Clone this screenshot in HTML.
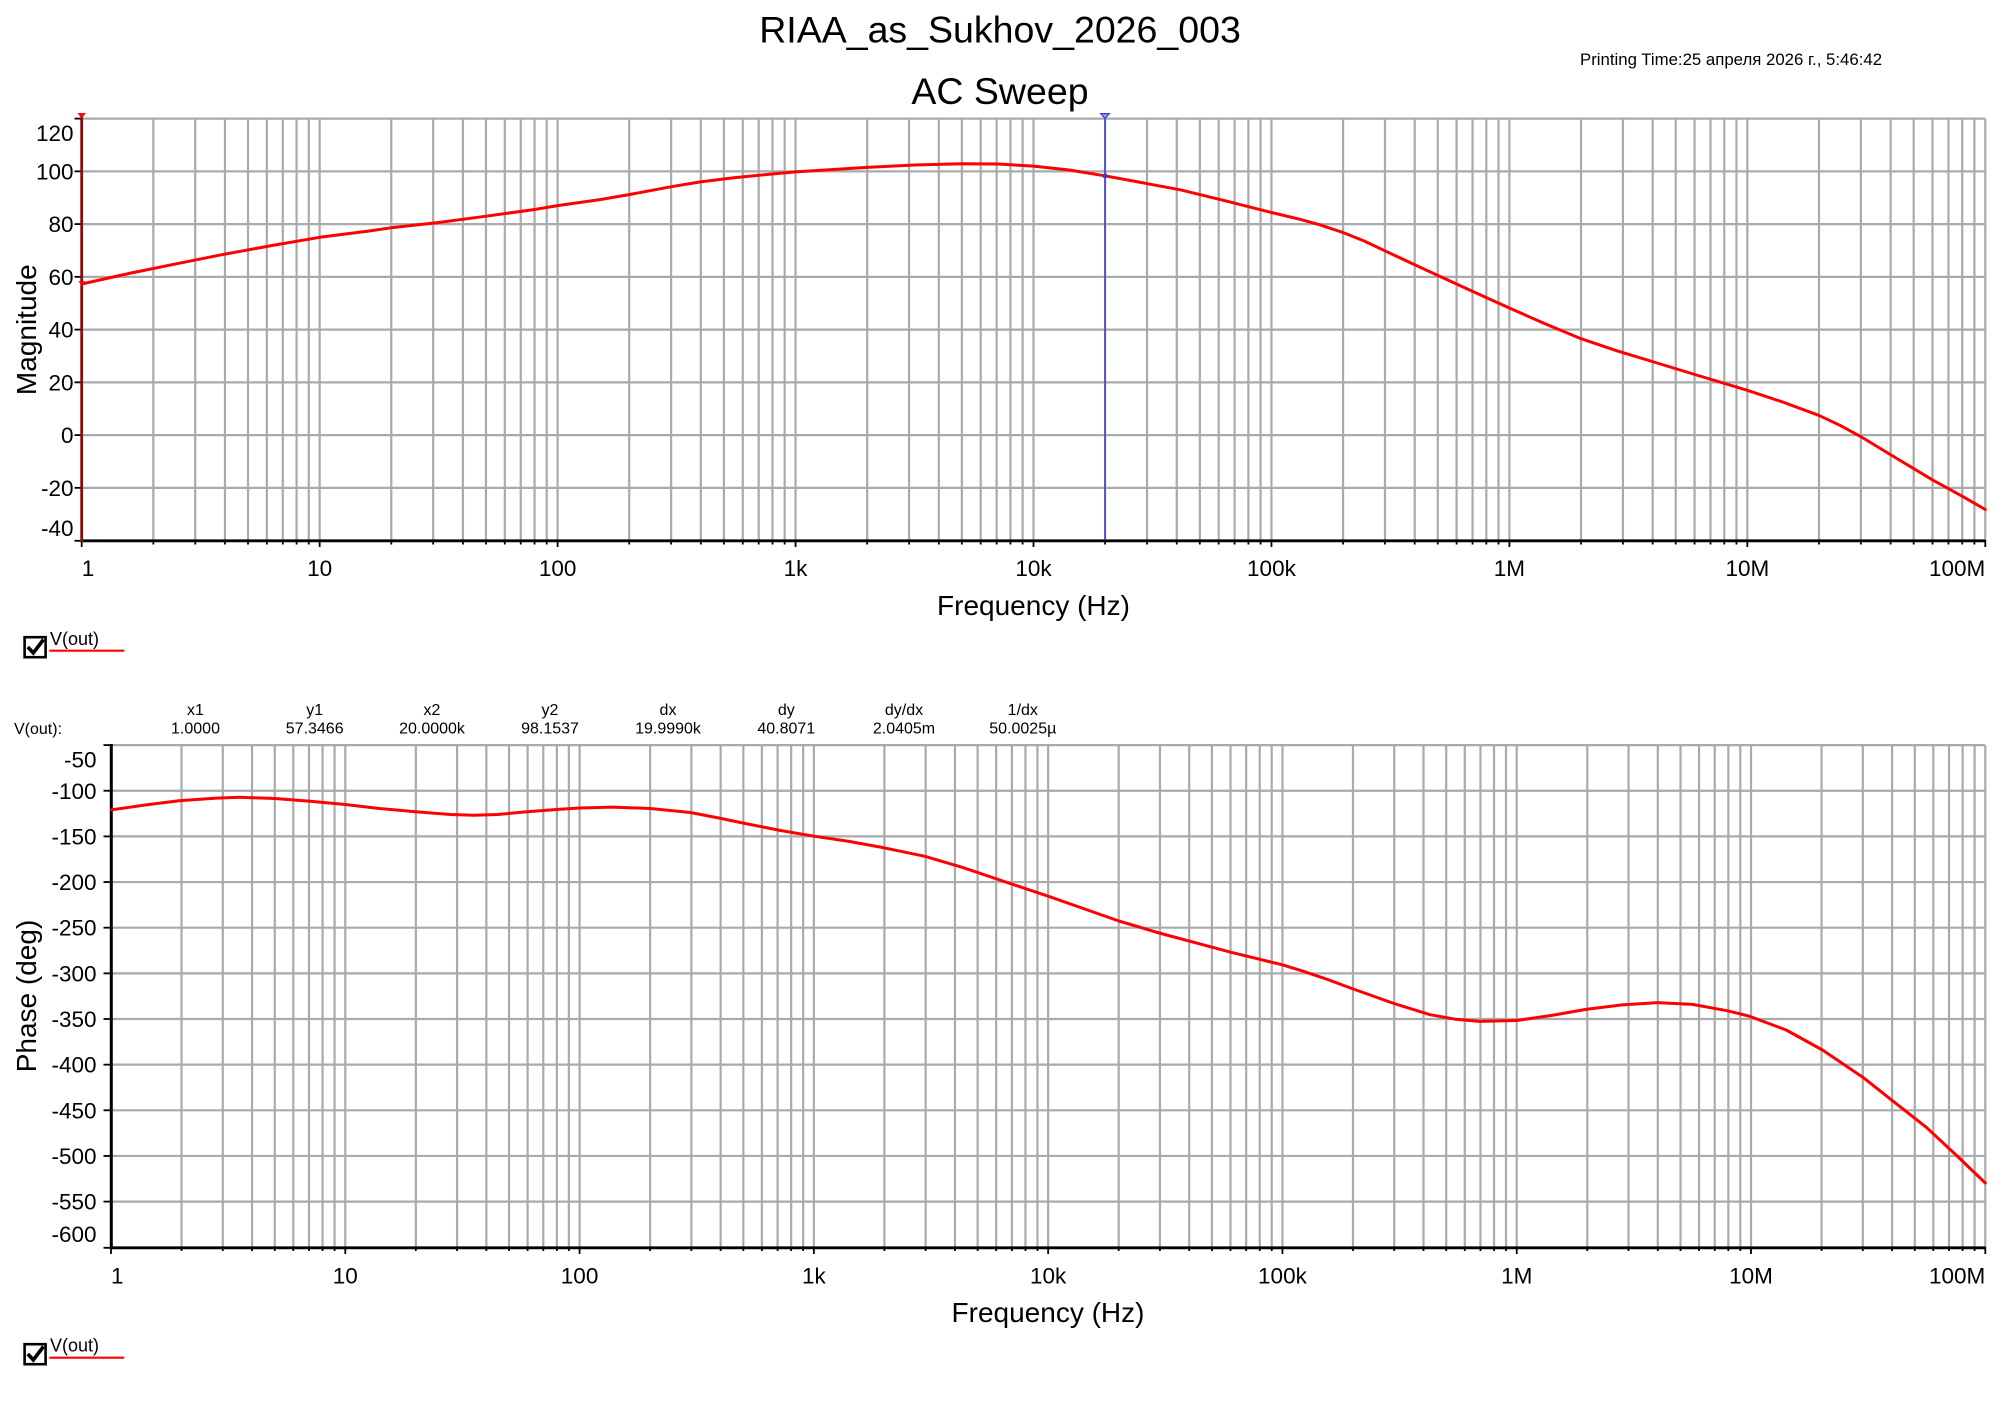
<!DOCTYPE html>
<html><head><meta charset="utf-8"><style>
html,body{margin:0;padding:0;background:#fff;}
svg{display:block;}
text{font-family:"Liberation Sans",Arial,sans-serif;fill:#000;}
</style></head><body>
<svg width="2000" height="1414" viewBox="0 0 2000 1414" xmlns="http://www.w3.org/2000/svg">
<defs>
<g id="gu" stroke="#aaaaaa" stroke-width="2.2">
<line x1="0" y1="118.6" x2="0" y2="540.8"/><line x1="71.63" y1="118.6" x2="71.63" y2="540.8"/><line x1="113.53" y1="118.6" x2="113.53" y2="540.8"/><line x1="143.26" y1="118.6" x2="143.26" y2="540.8"/><line x1="166.32" y1="118.6" x2="166.32" y2="540.8"/><line x1="185.16" y1="118.6" x2="185.16" y2="540.8"/><line x1="201.09" y1="118.6" x2="201.09" y2="540.8"/><line x1="214.89" y1="118.6" x2="214.89" y2="540.8"/><line x1="227.06" y1="118.6" x2="227.06" y2="540.8"/>
</g>
<g id="tu" stroke="#000" stroke-width="1.8">
<line x1="0" y1="540" x2="0" y2="547"/><line x1="71.63" y1="540" x2="71.63" y2="544.5"/><line x1="113.53" y1="540" x2="113.53" y2="544.5"/><line x1="143.26" y1="540" x2="143.26" y2="544.5"/><line x1="166.32" y1="540" x2="166.32" y2="544.5"/><line x1="185.16" y1="540" x2="185.16" y2="544.5"/><line x1="201.09" y1="540" x2="201.09" y2="544.5"/><line x1="214.89" y1="540" x2="214.89" y2="544.5"/><line x1="227.06" y1="540" x2="227.06" y2="544.5"/>
</g>
<g id="gl" stroke="#aaaaaa" stroke-width="2.2">
<line x1="0" y1="745.1" x2="0" y2="1247.8"/><line x1="70.53" y1="745.1" x2="70.53" y2="1247.8"/><line x1="111.79" y1="745.1" x2="111.79" y2="1247.8"/><line x1="141.06" y1="745.1" x2="141.06" y2="1247.8"/><line x1="163.76" y1="745.1" x2="163.76" y2="1247.8"/><line x1="182.31" y1="745.1" x2="182.31" y2="1247.8"/><line x1="198.0" y1="745.1" x2="198.0" y2="1247.8"/><line x1="211.58" y1="745.1" x2="211.58" y2="1247.8"/><line x1="223.57" y1="745.1" x2="223.57" y2="1247.8"/>
</g>
<g id="tl" stroke="#000" stroke-width="1.8">
<line x1="0" y1="1247" x2="0" y2="1254"/><line x1="70.53" y1="1247" x2="70.53" y2="1251"/><line x1="111.79" y1="1247" x2="111.79" y2="1251"/><line x1="141.06" y1="1247" x2="141.06" y2="1251"/><line x1="163.76" y1="1247" x2="163.76" y2="1251"/><line x1="182.31" y1="1247" x2="182.31" y2="1251"/><line x1="198.0" y1="1247" x2="198.0" y2="1251"/><line x1="211.58" y1="1247" x2="211.58" y2="1251"/><line x1="223.57" y1="1247" x2="223.57" y2="1251"/>
</g>
</defs>

<!-- Titles -->
<text x="1000" y="42.4" font-size="37.5" text-anchor="middle">RIAA_as_Sukhov_2026_003</text>
<text x="1580" y="65" font-size="16.8">Printing Time:25 апреля 2026 г., 5:46:42</text>
<text x="1000" y="104" font-size="37.5" text-anchor="middle">AC Sweep</text>

<!-- ===== Upper plot ===== -->
<g stroke="#aaaaaa" stroke-width="2.2">
<line x1="81.7" y1="118.6" x2="1985.3" y2="118.6"/>
<line x1="81.7" y1="171.35" x2="1985.3" y2="171.35"/>
<line x1="81.7" y1="224.1" x2="1985.3" y2="224.1"/>
<line x1="81.7" y1="276.85" x2="1985.3" y2="276.85"/>
<line x1="81.7" y1="329.6" x2="1985.3" y2="329.6"/>
<line x1="81.7" y1="382.35" x2="1985.3" y2="382.35"/>
<line x1="81.7" y1="435.1" x2="1985.3" y2="435.1"/>
<line x1="81.7" y1="487.85" x2="1985.3" y2="487.85"/>
<line x1="1985.3" y1="118.6" x2="1985.3" y2="540.8"/>
</g>
<use href="#gu" x="81.7"/><use href="#gu" x="319.65"/><use href="#gu" x="557.6"/><use href="#gu" x="795.55"/><use href="#gu" x="1033.5"/><use href="#gu" x="1271.45"/><use href="#gu" x="1509.4"/><use href="#gu" x="1747.35"/>
<use href="#tu" x="81.7"/><use href="#tu" x="319.65"/><use href="#tu" x="557.6"/><use href="#tu" x="795.55"/><use href="#tu" x="1033.5"/><use href="#tu" x="1271.45"/><use href="#tu" x="1509.4"/><use href="#tu" x="1747.35"/>
<line x1="1985.3" y1="540" x2="1985.3" y2="547" stroke="#000" stroke-width="1.8"/>
<g stroke="#000" stroke-width="1.8">
<line x1="74.5" y1="118.6" x2="81.7" y2="118.6"/>
<line x1="74.5" y1="171.35" x2="81.7" y2="171.35"/>
<line x1="74.5" y1="224.1" x2="81.7" y2="224.1"/>
<line x1="74.5" y1="276.85" x2="81.7" y2="276.85"/>
<line x1="74.5" y1="329.6" x2="81.7" y2="329.6"/>
<line x1="74.5" y1="382.35" x2="81.7" y2="382.35"/>
<line x1="74.5" y1="435.1" x2="81.7" y2="435.1"/>
<line x1="74.5" y1="487.85" x2="81.7" y2="487.85"/>
<line x1="74.5" y1="540.8" x2="81.7" y2="540.8"/>
</g>
<line x1="80.5" y1="540.8" x2="1985.3" y2="540.8" stroke="#000" stroke-width="2.8"/>
<line x1="81.7" y1="116" x2="81.7" y2="542" stroke="#8a0a0a" stroke-width="2.8"/>
<polygon points="77.5,113 86,113 81.7,118.5" fill="#e81010"/>

<!-- blue cursor -->
<line x1="1105" y1="115" x2="1105" y2="540" stroke="#3b3bd0" stroke-width="1.5"/>
<polygon points="1100.7,113.6 1109.3,113.6 1105,118.6" fill="#9a9af0" stroke="#3b3bd0" stroke-width="1.2"/>

<!-- magnitude curve -->
<polyline fill="none" stroke="#ff0000" stroke-width="3" stroke-linejoin="round" stroke-linecap="round" points="81.7,284.0 129.3,273.4 176.9,263.7 224.5,254.2 272.1,245.5 319.7,237.3 367.2,231.2 391.0,227.8 438.6,222.5 486.2,216.2 533.8,209.6 557.6,205.6 600.0,199.6 629.0,194.6 671.4,186.7 700.4,181.9 733.9,177.7 771.8,174.0 795.6,171.9 866.9,167.4 914.5,165.0 962.1,163.7 997.8,164.0 1033.5,166.1 1069.2,170.0 1104.9,175.8 1140.6,182.4 1180.3,189.8 1223.9,200.4 1271.5,212.5 1300.0,219.3 1319.1,224.6 1343.0,232.5 1364.2,241.0 1384.7,250.7 1414.2,264.5 1438.0,275.5 1473.7,291.9 1509.4,308.0 1545.1,323.8 1580.8,338.6 1616.5,350.7 1652.2,361.5 1699.8,376.0 1747.4,390.3 1783.0,402.1 1818.7,415.3 1840.0,425.3 1860.4,436.4 1890.1,454.4 1933.0,480.2 1961.5,495.8 1985.3,509.5"/>
<circle cx="1105" cy="175.9" r="2.5" fill="#3b3bd0"/>
<polygon points="78.5,281 85,281 81.7,286" fill="#e81010"/>

<!-- upper labels -->
<g font-size="22.5" text-anchor="end">
<text x="73.5" y="140.8">120</text>
<text x="73.5" y="179.4">100</text>
<text x="73.5" y="232.1">80</text>
<text x="73.5" y="284.9">60</text>
<text x="73.5" y="337.6">40</text>
<text x="73.5" y="390.4">20</text>
<text x="73.5" y="443.1">0</text>
<text x="73.5" y="495.9">-20</text>
<text x="73.5" y="536">-40</text>
</g>
<g font-size="22.5" text-anchor="middle">
<text x="81.7" y="576" text-anchor="start">1</text>
<text x="319.65" y="576">10</text>
<text x="557.6" y="576">100</text>
<text x="795.55" y="576">1k</text>
<text x="1033.5" y="576">10k</text>
<text x="1271.45" y="576">100k</text>
<text x="1509.4" y="576">1M</text>
<text x="1747.35" y="576">10M</text>
<text x="1985.3" y="576" text-anchor="end">100M</text>
</g>
<text x="1033.5" y="615" font-size="28" text-anchor="middle">Frequency (Hz)</text>
<text transform="translate(36,329.7) rotate(-90)" font-size="28" text-anchor="middle">Magnitude</text>

<!-- legend 1 -->
<rect x="24.6" y="637.2" width="21" height="20" fill="#fff" stroke="#000" stroke-width="2.6"/>
<polyline points="27.8,647 33.3,653 43.5,639.5" fill="none" stroke="#000" stroke-width="3.6"/>
<text x="50" y="645" font-size="18">V(out)</text>
<line x1="49.3" y1="650.7" x2="124.3" y2="650.7" stroke="#ff0000" stroke-width="2.2"/>

<!-- cursor readout -->
<g font-size="16" text-anchor="middle">
<text x="14" y="734" text-anchor="start">V(out):</text>
<text x="195.5" y="715">x1</text><text x="195.5" y="733.5">1.0000</text>
<text x="314.7" y="715">y1</text><text x="314.7" y="733.5">57.3466</text>
<text x="432" y="715">x2</text><text x="432" y="733.5">20.0000k</text>
<text x="550" y="715">y2</text><text x="550" y="733.5">98.1537</text>
<text x="668" y="715">dx</text><text x="668" y="733.5">19.9990k</text>
<text x="786.3" y="715">dy</text><text x="786.3" y="733.5">40.8071</text>
<text x="904" y="715">dy/dx</text><text x="904" y="733.5">2.0405m</text>
<text x="1022.8" y="715">1/dx</text><text x="1022.8" y="733.5">50.0025µ</text>
</g>

<!-- ===== Lower plot ===== -->
<g stroke="#aaaaaa" stroke-width="2.2">
<line x1="111" y1="745.1" x2="1985.3" y2="745.1"/>
<line x1="111" y1="790.75" x2="1985.3" y2="790.75"/>
<line x1="111" y1="836.4" x2="1985.3" y2="836.4"/>
<line x1="111" y1="882.05" x2="1985.3" y2="882.05"/>
<line x1="111" y1="927.7" x2="1985.3" y2="927.7"/>
<line x1="111" y1="973.35" x2="1985.3" y2="973.35"/>
<line x1="111" y1="1019.0" x2="1985.3" y2="1019.0"/>
<line x1="111" y1="1064.65" x2="1985.3" y2="1064.65"/>
<line x1="111" y1="1110.3" x2="1985.3" y2="1110.3"/>
<line x1="111" y1="1155.95" x2="1985.3" y2="1155.95"/>
<line x1="111" y1="1201.6" x2="1985.3" y2="1201.6"/>
<line x1="1985.3" y1="745.1" x2="1985.3" y2="1247.8"/>
</g>
<use href="#gl" x="111"/><use href="#gl" x="345.29"/><use href="#gl" x="579.58"/><use href="#gl" x="813.87"/><use href="#gl" x="1048.16"/><use href="#gl" x="1282.45"/><use href="#gl" x="1516.74"/><use href="#gl" x="1751.03"/>
<use href="#tl" x="111"/><use href="#tl" x="345.29"/><use href="#tl" x="579.58"/><use href="#tl" x="813.87"/><use href="#tl" x="1048.16"/><use href="#tl" x="1282.45"/><use href="#tl" x="1516.74"/><use href="#tl" x="1751.03"/>
<line x1="1985.3" y1="1247" x2="1985.3" y2="1254" stroke="#000" stroke-width="1.8"/>
<g stroke="#000" stroke-width="1.8">
<line x1="103.5" y1="745.1" x2="111" y2="745.1"/>
<line x1="103.5" y1="790.75" x2="111" y2="790.75"/>
<line x1="103.5" y1="836.4" x2="111" y2="836.4"/>
<line x1="103.5" y1="882.05" x2="111" y2="882.05"/>
<line x1="103.5" y1="927.7" x2="111" y2="927.7"/>
<line x1="103.5" y1="973.35" x2="111" y2="973.35"/>
<line x1="103.5" y1="1019.0" x2="111" y2="1019.0"/>
<line x1="103.5" y1="1064.65" x2="111" y2="1064.65"/>
<line x1="103.5" y1="1110.3" x2="111" y2="1110.3"/>
<line x1="103.5" y1="1155.95" x2="111" y2="1155.95"/>
<line x1="103.5" y1="1201.6" x2="111" y2="1201.6"/>
<line x1="103.5" y1="1247.8" x2="111" y2="1247.8"/>
</g>
<line x1="110" y1="1247.8" x2="1985.3" y2="1247.8" stroke="#000" stroke-width="2.8"/>
<line x1="111.3" y1="744" x2="111.3" y2="1249" stroke="#000" stroke-width="3"/>

<!-- phase curve -->
<polyline fill="none" stroke="#ff0000" stroke-width="3" stroke-linejoin="round" stroke-linecap="round" points="111.5,809.8 146.1,804.9 178.9,800.8 216.4,798.1 239.9,797.3 275.0,798.5 310.2,801.3 345.3,804.5 380.4,808.6 415.6,811.8 450.7,814.5 474.2,815.2 497.6,814.5 527.1,811.8 556.2,809.5 579.6,808.0 612.4,807.1 650.3,808.5 690.4,812.5 719.5,818.1 748.3,824.1 779.9,830.4 813.9,836.2 849.0,841.4 881.8,847.4 924.9,856.3 962.6,867.4 1007.2,882.5 1048.2,896.2 1083.3,908.5 1118.9,921.0 1159.2,933.0 1230.7,952.2 1282.0,964.7 1300.3,970.3 1324.6,978.4 1351.6,988.4 1394.0,1003.5 1430.1,1014.7 1455.8,1019.3 1479.3,1021.4 1516.7,1020.5 1551.9,1015.4 1585.9,1009.4 1622.2,1004.9 1657.3,1002.6 1692.5,1004.4 1727.6,1010.8 1748.7,1016.0 1786.2,1030.0 1822.5,1050.0 1862.8,1077.2 1893.9,1101.8 1926.8,1127.7 1956.5,1155.4 1985.3,1183.0"/>

<!-- lower labels -->
<g font-size="22.5" text-anchor="end">
<text x="96.5" y="767.4">-50</text>
<text x="96.5" y="798.8">-100</text>
<text x="96.5" y="844.4">-150</text>
<text x="96.5" y="890">-200</text>
<text x="96.5" y="935.7">-250</text>
<text x="96.5" y="981.4">-300</text>
<text x="96.5" y="1027">-350</text>
<text x="96.5" y="1072.7">-400</text>
<text x="96.5" y="1118.3">-450</text>
<text x="96.5" y="1164">-500</text>
<text x="96.5" y="1209.6">-550</text>
<text x="96.5" y="1242">-600</text>
</g>
<g font-size="22.5" text-anchor="middle">
<text x="111" y="1283.5" text-anchor="start">1</text>
<text x="345.29" y="1283.5">10</text>
<text x="579.58" y="1283.5">100</text>
<text x="813.87" y="1283.5">1k</text>
<text x="1048.16" y="1283.5">10k</text>
<text x="1282.45" y="1283.5">100k</text>
<text x="1516.74" y="1283.5">1M</text>
<text x="1751.03" y="1283.5">10M</text>
<text x="1985.3" y="1283.5" text-anchor="end">100M</text>
</g>
<text x="1048" y="1322" font-size="28" text-anchor="middle">Frequency (Hz)</text>
<text transform="translate(36,996) rotate(-90)" font-size="28" text-anchor="middle">Phase (deg)</text>

<!-- legend 2 -->
<rect x="24.6" y="1344.2" width="21" height="20" fill="#fff" stroke="#000" stroke-width="2.6"/>
<polyline points="27.8,1354 33.3,1360 43.5,1346.5" fill="none" stroke="#000" stroke-width="3.6"/>
<text x="50" y="1351.5" font-size="18">V(out)</text>
<line x1="49.3" y1="1357.7" x2="124.3" y2="1357.7" stroke="#ff0000" stroke-width="2.2"/>
</svg>
</body></html>
